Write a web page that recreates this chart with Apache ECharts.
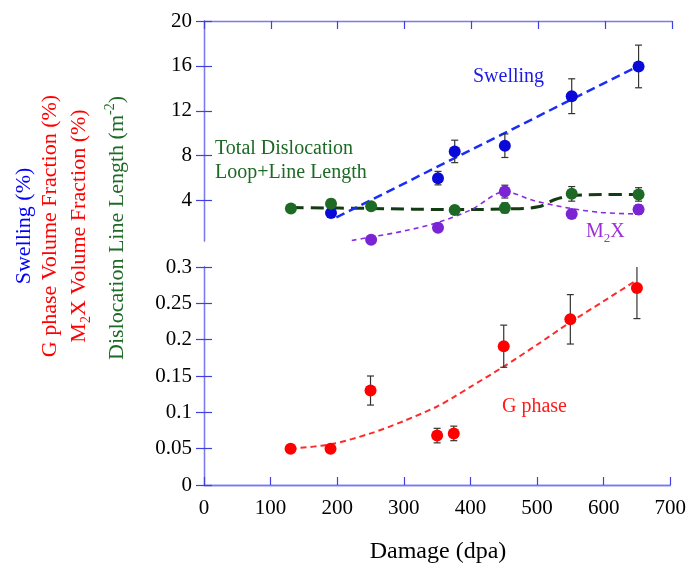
<!DOCTYPE html>
<html><head><meta charset="utf-8">
<script src="https://cdn.jsdelivr.net/npm/echarts@6/dist/echarts.min.js"></script>
<style>html,body{margin:0;padding:0;background:#fff;}#c{width:689px;height:569px;}</style>
</head><body><div id="c"></div>
<script>
// ---- data ----
const xTicks = [0,100,200,300,400,500,600,700];
const swellX = [190,350,375,450,550,650];
const swellY = [2.89,6.0,8.38,8.89,13.3,15.95];
const swellErr = [0.2,0.6,1.0,1.05,1.55,1.9];
const swellFitX = [198,650];
const swellFitY = [2.5,16.0];

const dislX = [130,190,250,375,450,550,650];
const dislY = [3.3,3.71,3.5,3.17,3.35,4.6,4.55];
const dislErr = [0.3,0.4,0.3,0.25,0.45,0.65,0.6];
const dislFitX = [130,250,375,450,500,525,550,600,650];
const dislFitY = [3.38,3.3,3.2,3.25,3.45,4.1,4.42,4.55,4.55];

const m2xX = [250,350,450,550,650];
const m2xY = [0.52,1.59,4.8,2.81,3.2];
const m2xErr = [0,0,0.57,0,0.42];
const m2xFitX = [221,250,300,350,400,450,493,544,592,650];
const m2xFitY = [0.45,0.75,1.3,2.05,3.2,4.8,4.0,3.35,2.95,2.8];

const gX = [130,190,250,350,375,450,550,650];
const gY = [0.05,0.05,0.13,0.068,0.071,0.191,0.228,0.271];
const gErr = [0.004,0.004,0.02,0.01,0.01,0.029,0.034,0.042];
const gFitX = [130,190,250,300,350,375,400,450,500,550,600,650];
const gFitY = [0.05,0.056,0.071,0.088,0.108,0.121,0.135,0.163,0.193,0.224,0.253,0.282];

const topTicks = [4,8,12,16,20];
const botTicks = [0,0.05,0.1,0.15,0.2,0.25,0.3];

// ---- helpers ----
const zip = (a,b) => a.map((v,i)=>[v,b[i]]);
const errData = (x,y,e) => x.map((v,i)=>[v,y[i]-e[i],y[i]+e[i]]);
const FONT = 'Liberation Serif';
const AX = '#7a7aee', TK = '#4040dc';

function errRender(params, api){
  const x = api.value(0), lo = api.value(1), hi = api.value(2);
  if (hi - lo <= 0) return null;
  const p1 = api.coord([x,hi]), p2 = api.coord([x,lo]);
  const cs = params.coordSys;
  const top = Math.max(p1[1], cs.y);
  const clipped = p1[1] < cs.y;
  const w = 3.5;
  const st = {stroke:'#333', lineWidth:1.2};
  const ch = [
    {type:'line', shape:{x1:p1[0],y1:top,x2:p2[0],y2:p2[1]}, style:st},
    {type:'line', shape:{x1:p2[0]-w,y1:p2[1],x2:p2[0]+w,y2:p2[1]}, style:st}
  ];
  if(!clipped) ch.push({type:'line', shape:{x1:p1[0]-w,y1:p1[1],x2:p1[0]+w,y2:p1[1]}, style:st});
  return {type:'group', children:ch};
}

function scatter(name, xi, yi, x, y, color){
  return {name, type:'scatter', xAxisIndex:xi, yAxisIndex:yi, data:zip(x,y),
    symbolSize:12, itemStyle:{color, opacity:1}, z:5, clip:false};
}
function errs(xi, yi, x, y, e){
  return {type:'custom', xAxisIndex:xi, yAxisIndex:yi, renderItem:errRender,
    data:errData(x,y,e), z:3, silent:true};
}
function fit(xi, yi, x, y, color, width, dash, smooth){
  return {type:'line', xAxisIndex:xi, yAxisIndex:yi, data:zip(x,y), showSymbol:false,
    symbol:'none', smooth:smooth||false, lineStyle:{color, width, type:dash}, z:2, silent:true};
}

const chart = echarts.init(document.getElementById('c'));
const tickStyle = {show:true, inside:true, length:8, lineStyle:{color:TK, width:1.2}};
const lineStyle = {show:true, lineStyle:{color:AX, width:1.3}};
const labelStyle = {color:'#000', fontFamily:FONT, fontSize:21};

chart.setOption({
  animation:false,
  grid:[
    {left:204, right:17, top:21, height:220},
    {left:204, right:17, top:267, height:218}
  ],
  xAxis:[
    {gridIndex:0, type:'value', min:0, max:700, interval:100, position:'bottom',
      axisLine:{show:false}, axisTick:{show:false}, axisLabel:{show:false}, splitLine:{show:false}},
    {gridIndex:0, type:'value', min:0, max:700, interval:100, position:'top',
      axisLine:lineStyle, axisTick:tickStyle, axisLabel:{show:false}, splitLine:{show:false}},
    {gridIndex:1, type:'value', min:0, max:700, interval:100, position:'bottom',
      axisLine:lineStyle, axisTick:tickStyle, axisLabel:Object.assign({margin:13}, labelStyle), splitLine:{show:false}},
    {gridIndex:1, type:'value', min:0, max:700, interval:100, position:'top',
      axisLine:lineStyle, axisTick:{show:false}, axisLabel:{show:false}, splitLine:{show:false}}
  ],
  yAxis:[
    {gridIndex:0, type:'value', min:0.4, max:20, position:'left',
      axisLine:lineStyle,
      axisTick:Object.assign({customValues:topTicks}, tickStyle),
      axisLabel:Object.assign({customValues:topTicks, margin:12}, labelStyle), splitLine:{show:false}},
    {gridIndex:0, type:'value', min:0.4, max:20, position:'right',
      axisLine:lineStyle,
      axisTick:Object.assign({customValues:topTicks}, tickStyle),
      axisLabel:{show:false}, splitLine:{show:false}},
    {gridIndex:1, type:'value', min:0, max:0.3, interval:0.05, position:'left',
      axisLine:lineStyle, axisTick:tickStyle,
      axisLabel:Object.assign({margin:12, customValues:botTicks}, labelStyle), splitLine:{show:false}},
    {gridIndex:1, type:'value', min:0, max:0.3, interval:0.05, position:'right',
      axisLine:lineStyle, axisTick:tickStyle, axisLabel:{show:false}, splitLine:{show:false}}
  ],
  series:[
    fit(0,0,dislFitX,dislFitY,'#143c14',3,[13,7],0.35),
    fit(0,0,swellFitX,swellFitY,'#1a2ef5',2.5,[9,5]),
    fit(0,0,m2xFitX,m2xFitY,'#8a2be2',1.6,[5,4],0.3),
    errs(0,0,swellX,swellY,swellErr),
    errs(0,0,dislX,dislY,dislErr),
    errs(0,0,m2xX,m2xY,m2xErr),
    scatter('Swelling',0,0,swellX,swellY,'#0a0ad8'),
    scatter('M2X',0,0,m2xX,m2xY,'#7a24d4'),
    scatter('Dislocation',0,0,dislX,dislY,'#1d6a24'),
    fit(2,2,gFitX,gFitY,'#ff2a2a',2,[6,4],0.3),
    errs(2,2,gX,gY,gErr),
    scatter('G phase',2,2,gX,gY,'#ff0000')
  ],
  graphic:[
    {type:'text', x:473, y:77, style:{text:'Swelling', fill:'#1a1ae6', font:'20px '+FONT, textVerticalAlign:'middle'}},
    {type:'text', x:215, y:149, style:{text:'Total Dislocation', fill:'#1d6a24', font:'20px '+FONT, textVerticalAlign:'middle'}},
    {type:'text', x:215, y:173, style:{text:'Loop+Line Length', fill:'#1d6a24', font:'20px '+FONT, textVerticalAlign:'middle'}},
    {type:'text', x:586, y:222, style:{text:'{a|M}{s|2}{a|X}', fill:'#9a30d8',
      rich:{a:{fontFamily:FONT, fontSize:20, lineHeight:20, fill:'#9a30d8'}, s:{fontFamily:FONT, fontSize:13, lineHeight:13, padding:[14,0,0,0], fill:'#9a30d8'}}}},
    {type:'text', x:502, y:407, style:{text:'G phase', fill:'#ff1a1a', font:'20px '+FONT, textVerticalAlign:'middle'}},
    {type:'text', x:438, y:552, style:{text:'Damage (dpa)', fill:'#000', font:'24px '+FONT, textAlign:'center', textVerticalAlign:'middle'}},
    {type:'text', x:24, y:226, rotation:Math.PI/2, style:{text:'Swelling (%)', fill:'#0000ff', font:'22px '+FONT, textAlign:'center', textVerticalAlign:'middle'}},
    {type:'text', x:50, y:226, rotation:Math.PI/2, style:{text:'G phase Volume Fraction (%)', fill:'#ff0000', font:'22px '+FONT, textAlign:'center', textVerticalAlign:'middle'}},
    {type:'text', x:79, y:226, rotation:Math.PI/2, style:{text:'{a|M}{s|2}{a|X Volume Fraction (%)}', textAlign:'center', textVerticalAlign:'middle',
      rich:{a:{fontFamily:FONT, fontSize:22, lineHeight:22, fill:'#ff0000'}, s:{fontFamily:FONT, fontSize:14, lineHeight:14, padding:[14,0,0,0], fill:'#ff0000'}}}},
    {type:'text', x:117, y:228, rotation:Math.PI/2, style:{text:'{a|Dislocation Line Length (m}{s|-2}{a|)}', textAlign:'center', textVerticalAlign:'middle',
      rich:{a:{fontFamily:FONT, fontSize:22, lineHeight:22, fill:'#1d6a24'}, s:{fontFamily:FONT, fontSize:14, lineHeight:14, padding:[0,0,14,0], fill:'#1d6a24'}}}}
  ]
});
</script></body></html>
